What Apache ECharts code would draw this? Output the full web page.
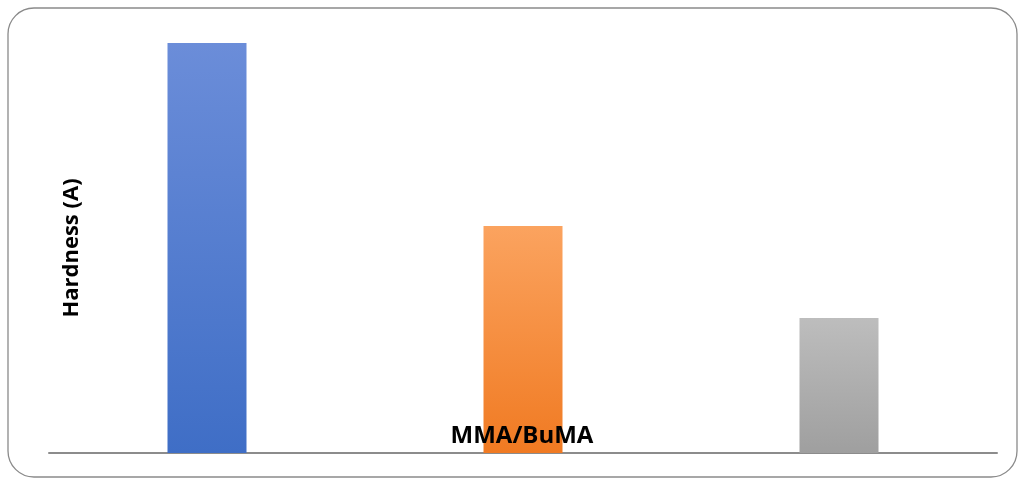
<!DOCTYPE html>
<html>
<head>
<meta charset="utf-8">
<script src="https://cdn.jsdelivr.net/npm/echarts@6/dist/echarts.min.js"></script>
<style>
html,body{margin:0;padding:0;background:#fff;}
#chart{width:1022px;height:479px;}
</style>
</head>
<body>
<div id="chart"></div>
<script>
const categories = ['A', 'B', 'C'];
const hardness = [82, 45.4, 27];
const xTitle = 'MMA/BuMA';
const yTitle = 'Hardness (A)';

const gradients = [
  ['#6b8dd9', '#3f6ec6'],
  ['#fba35f', '#f07a22'],
  ['#bdbdbd', '#9f9f9f']
];

const chart = echarts.init(document.getElementById('chart'));
const titleStyle = {
  fontFamily: '"Open Sans", "DejaVu Sans", sans-serif',
  fontWeight: 'bold',
  fill: '#000',
  align: 'center',
  verticalAlign: 'middle'
};
chart.setOption({
  animation: false,
  grid: { left: 49, right: 25, top: 28, bottom: 26 },
  xAxis: {
    type: 'category',
    data: categories,
    axisLine: { show: true, lineStyle: { color: '#8c8c8c', width: 2 } },
    axisTick: { show: false },
    axisLabel: { show: false }
  },
  yAxis: {
    type: 'value',
    min: 0,
    max: 85,
    axisLine: { show: false },
    axisTick: { show: false },
    axisLabel: { show: false },
    splitLine: { show: false }
  },
  graphic: [
    {
      type: 'rect',
      shape: { x: 8, y: 8, width: 1009, height: 469, r: 26 },
      style: { fill: 'none', stroke: '#8a8a8a', lineWidth: 1.3 },
      z: 0
    },
    {
      type: 'text',
      x: 522, y: 436,
      style: Object.assign({ text: xTitle, fontSize: 24 }, titleStyle),
      z: 10
    },
    {
      type: 'text',
      x: 72, y: 248,
      rotation: Math.PI / 2,
      style: Object.assign({ text: yTitle, fontSize: 22 }, titleStyle),
      z: 10
    }
  ],
  series: [{
    type: 'bar',
    barWidth: '25%',
    data: hardness.map((v, i) => ({
      value: v,
      itemStyle: {
        color: new echarts.graphic.LinearGradient(0, 0, 0, 1, [
          { offset: 0, color: gradients[i][0] },
          { offset: 1, color: gradients[i][1] }
        ])
      }
    }))
  }]
});
</script>
</body>
</html>
